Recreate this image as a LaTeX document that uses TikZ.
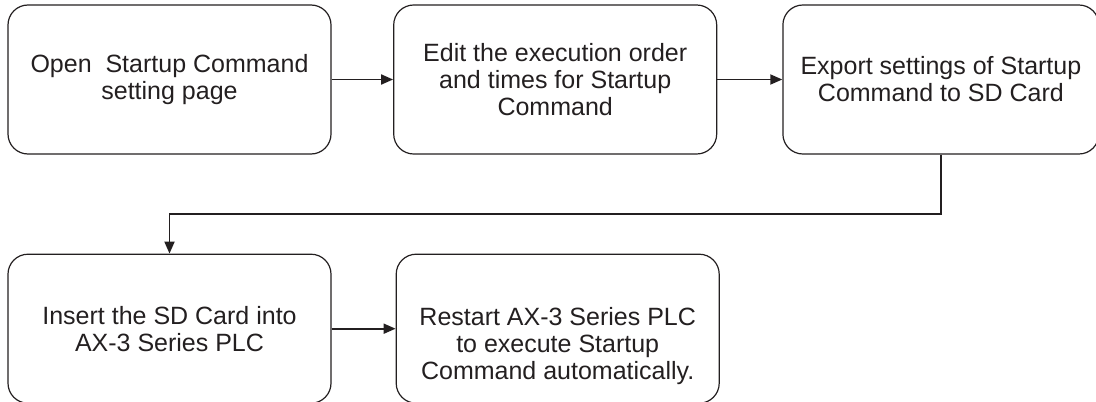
\documentclass[tikz,border=0pt]{standalone}
\usepackage{fontspec}
\setmainfont{Liberation Sans}
\definecolor{InkDark}{RGB}{35,31,32}
\usetikzlibrary{arrows.meta,positioning}

\begin{document}
\begin{tikzpicture}[
    font=\fontsize{12.5}{13.5}\selectfont, node distance=31pt and 31pt,
    stepbox/.style={draw=InkDark, rounded corners=10pt, align=center, text=InkDark,
                line width=0.6pt, minimum width=161.5pt, minimum height=74.5pt, inner sep=2pt},
    arr/.style={-{Triangle[length=6pt,width=5pt]}, line width=0.9pt, InkDark}
  ]
    \useasboundingbox (0,0) rectangle (548pt,-200.5pt);

    % Top row
    \node[stepbox] (open) at (84.75pt,-39.75pt) {Open~~Startup Command\\setting page};
    \node[stepbox, right=30.75pt of open] (edit) {Edit the execution order\\and times for Startup\\Command};
    \node[stepbox, right=32.5pt of edit, minimum width=158pt] (export) {Export settings of Startup\\Command to SD Card};

    \draw[arr] (open)--(edit);
    \draw[arr] (edit)--(export);

    % Bottom row
    \node[stepbox, below=49.5pt of open] (insert) {Insert the SD Card into\\AX-3 Series PLC};
    \node[stepbox, right=32pt of insert] (restart) {\rule{0pt}{26pt}Restart AX-3 Series PLC\\to execute Startup\\Command automatically.};

    \draw[arr] (insert)--(restart);

    % Turn down to the second row
    \coordinate[below=29.5pt of export.south] (bend);
    \draw[arr] (export.south) -- (bend) -| (insert.north);
  \end{tikzpicture}
\end{document}
